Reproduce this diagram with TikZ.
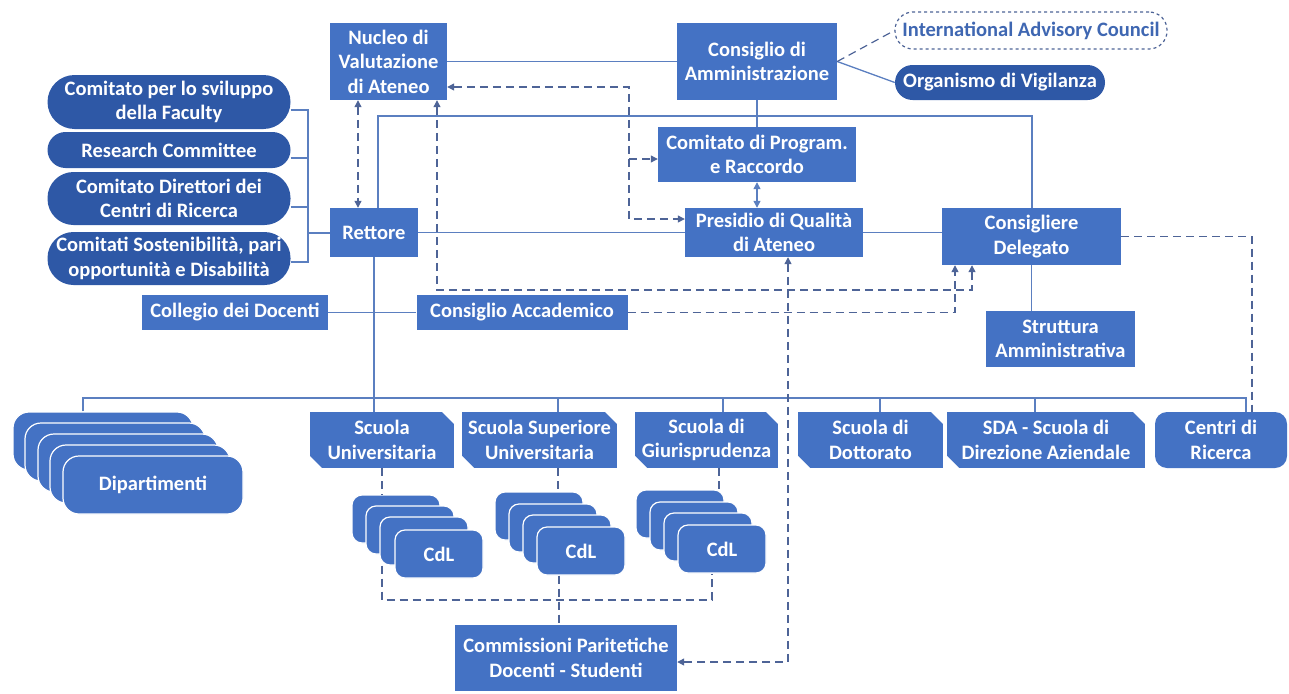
\documentclass[tikz,border=0pt]{standalone}
\usepackage{fontspec}
\setmainfont{Carlito}
\usetikzlibrary{arrows.meta}
\definecolor{boxblue}{HTML}{4472C4}
\definecolor{pillblue}{HTML}{2E58A6}
\definecolor{lineblue}{HTML}{5B7FC0}
\definecolor{dashgray}{HTML}{4E6497}
\definecolor{iactext}{HTML}{3F67B2}
\begin{document}
\begin{tikzpicture}[x=1pt,y=-1pt,
  >={Triangle[width=7pt,length=7pt]},
  every node/.style={font=\bfseries\fontsize{20.5}{24.5}\selectfont, text=white, align=center, inner sep=0pt},
  box/.style n args={2}{fill=boxblue, minimum width=#1pt, minimum height=#2pt},
  pill/.style n args={3}{fill=pillblue, rounded corners=#3pt, minimum width=#1pt, minimum height=#2pt},
  card/.style n args={3}{fill=boxblue, draw=white, line width=1.2pt, rounded corners=#3pt, minimum width=#1pt, minimum height=#2pt},
  snip/.style n args={2}{box={#1}{#2}, path picture={
     \fill[white] ([xshift=-12pt]path picture bounding box.north east) -- ([xshift=1pt,yshift=1pt]path picture bounding box.north east) -- ([yshift=-12pt]path picture bounding box.north east) -- cycle;
     \fill[white] ([xshift=12pt]path picture bounding box.south west) -- ([xshift=-1pt,yshift=-1pt]path picture bounding box.south west) -- ([yshift=12pt]path picture bounding box.south west) -- cycle;}},
  iacbox/.style={draw=dashgray, dashed, line width=1.2pt, fill=white, rounded corners=18pt, text=iactext, minimum width=272pt, minimum height=37pt},
  conn/.style={draw=lineblue, line width=1.3pt},
  dsh/.style={draw=dashgray, line width=1.2pt, dash pattern=on 8pt off 5pt}]
\useasboundingbox (0,0) rectangle (1289,693);

% top
\node[box={117}{77}] (nuc) at (388.5,61.5) {Nucleo di\\Valutazione\\di Ateneo};
\node[box={160}{77}] (cda) at (757,61.5) {Consiglio di\\Amministrazione};
\node[iacbox] (iac) at (1031,30.5) {International Advisory Council};
\node[pill={210}{35}{17.5}] (odv) at (1000,82.5) {Organismo di Vigilanza};

% committees
\node[pill={243}{54}{27}] (c1) at (169,102) {Comitato per lo sviluppo\\della Faculty};
\node[pill={243}{36}{18}] (c2) at (169,150) {Research Committee};
\node[pill={243}{53}{26}] (c3) at (169,198.5) {Comitato Direttori dei\\Centri di Ricerca};
\node[pill={243}{53}{26}] (c4) at (169,258.5) {Comitati Sostenibilità, pari\\opportunità e Disabilità};

% middle
\node[box={88}{49}] (ret) at (374,232.5) {Rettore};
\node[box={198}{55}] (cpr) at (757,154.5) {Comitato di Program.\\e Raccordo};
\node[box={178}{49}] (pqa) at (774,232.5) {Presidio di Qualità\\di Ateneo};
\node[box={179}{57}] (cd) at (1031.5,236.5) {Consigliere\\Delegato};
\node[box={149}{56}] (sa) at (1060.5,339) {Struttura\\Amministrativa};
\node[box={186}{35}] (col) at (235,312.5) {Collegio dei Docenti};
\node[box={211}{35}] (cac) at (522,312.5) {Consiglio Accademico};

% schools
\node[snip={144}{56}] (su) at (382,440) {Scuola\\Universitaria};
\node[snip={155}{56}] (ssu) at (539.5,440) {Scuola Superiore\\Universitaria};
\node[snip={143}{56}] (sg) at (706.5,440) {Scuola di\\Giurisprudenza};
\node[snip={145}{56}] (sd) at (870.5,440) {Scuola di\\Dottorato};
\node[snip={198}{56}] (sda) at (1046,440) {SDA - Scuola di\\Direzione Aziendale};
\node[box={132}{56}, rounded corners=12pt] (cr) at (1221,440) {Centri di\\Ricerca};

% Dipartimenti stack
\node[card={180}{58}{16}] (dip1) at (103,441) {};
\node[card={180}{58}{16}] (dip2) at (115,452) {};
\node[card={180}{58}{16}] (dip3) at (128,463) {};
\node[card={180}{58}{16}] (dip4) at (140,474) {};
\node[card={180}{58}{16}] (dip5) at (153,485) {Dipartimenti};

% CdL stacks
\node[card={88}{48}{10}] (cdlU1) at (396,519) {};
\node[card={88}{48}{10}] (cdlU2) at (410,530) {};
\node[card={88}{48}{10}] (cdlU3) at (424,541) {};
\node[card={88}{48}{10}] (cdlU4) at (439,554) {CdL};
\node[card={88}{48}{10}] (cdlS1) at (539,516) {};
\node[card={88}{48}{10}] (cdlS2) at (553,528) {};
\node[card={88}{48}{10}] (cdlS3) at (567,539) {};
\node[card={88}{48}{10}] (cdlS4) at (581,551) {CdL};
\node[card={88}{48}{10}] (cdlG1) at (680,514) {};
\node[card={88}{48}{10}] (cdlG2) at (694,526) {};
\node[card={88}{48}{10}] (cdlG3) at (708,537) {};
\node[card={88}{48}{10}] (cdlG4) at (722,549) {CdL};

\node[box={222}{66}] (cpd) at (566,658) {Commissioni Paritetiche\\Docenti - Studenti};

% solid connectors
\draw[conn] (nuc.east) -- (cda.west);
\draw[conn] (cda.east) -- (odv.west);
\draw[dsh] (cda.east) -- (iac.west);
\draw[conn] (cda.south) -- (cpr.north);
\draw[conn,<->] (757,0 |- cpr.south) -- (757,0 |- pqa.north);
\draw[conn] (ret.east) -- (pqa.west);
\draw[conn] (pqa.east) -- (cd.west |- pqa.east);
\draw[conn] (378,0 |- ret.north) -- (378,116) -- (1032,116) -- (1032,0 |- cd.north);
\draw[conn] (c1.east |- 0,110) -- (308,110) -- (308,262) -- (c4.east |- 0,262);
\draw[conn] (c2.east |- 0,158) -- (308,158);
\draw[conn] (c3.east |- 0,207) -- (308,207);
\draw[conn] (308,233) -- (ret.west |- 0,233);
\draw[conn] (col.east) -- (cac.west);
\draw[conn] (ret.south) -- (ret.south |- su.north);
\draw[conn] (83,0 |- dip1.north) -- (83,398) -- (1246,398) -- (1246,0 |- cr.north);
\foreach \xx/\nn in {558/ssu,723/sg,880/sd,1035/sda}
  \draw[conn] (\xx,398) -- (\xx,0 |- \nn.north);
\draw[conn] (cd.south) -- (cd.south |- sa.north);

% dashed connectors
\draw[dsh,<->] (358,0 |- nuc.south) -- (358,0 |- ret.north);
\draw[dsh,<->] (nuc.east |- 0,87) -- (629,87) -- (629,219) -- (pqa.west |- 0,219);
\draw[dsh,->] (629,159) -- (cpr.west |- 0,159);
\draw[dsh,<->] (437,0 |- nuc.south) -- (437,290) -- (972,290) -- (972,0 |- cd.south);
\draw[dsh,->] (cac.east) -- (955,0 |- cac.east) -- (955,0 |- cd.south);
\draw[dsh,<->] (788,0 |- pqa.south) -- (788,662) -- (cpd.east |- 0,662);
\draw[dsh] (cd.east) -- (1252,0 |- cd.east) -- (1252,0 |- cr.north);
\draw[dsh] (382,0 |- su.south) -- (382,0 |- cdlU1.north);
\draw[dsh] (558,0 |- ssu.south) -- (558,0 |- cdlS1.north);
\draw[dsh] (719,0 |- sg.south) -- (719,0 |- cdlG1.north);
\draw[dsh] (382,0 |- cdlU3.south) -- (382,600) -- (712,600) -- (712,0 |- cdlG4.south);
\draw[dsh] (559,0 |- cdlS4.south) -- (559,0 |- cpd.north);
\end{tikzpicture}
\end{document}
